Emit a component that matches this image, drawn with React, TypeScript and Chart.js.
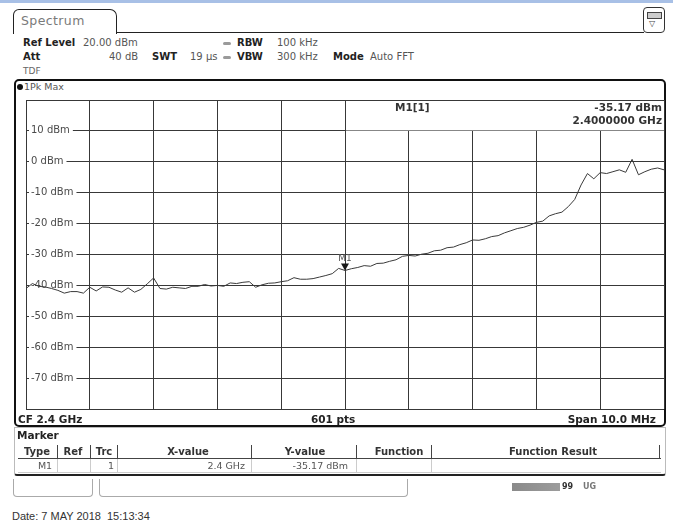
import React, { useEffect, useRef } from "react";
import { Chart, registerables } from "chart.js";

Chart.register(...registerables);

// ---- data ----
const centerFreqGHz = 2.4;
const spanGHz = 0.01;
const traceStartGHz = 2.395;
const traceStepGHz = 0.0001;
const traceLevelsDbm = [
  -41.0, -39.4, -40.3, -40.5, -41.0, -41.6, -42.5, -42.0, -42.0, -42.5,
  -40.6, -41.8, -40.5, -40.6, -41.5, -42.2, -40.8, -42.2, -41.3, -39.5,
  -37.6, -41.0, -41.2, -40.6, -40.8, -41.0, -40.3, -40.3, -39.7, -40.2,
  -40.0, -40.3, -39.2, -39.4, -39.0, -38.8, -40.6, -39.8, -39.3, -39.2,
  -38.8, -38.5, -37.5, -38.0, -38.0, -37.8, -37.3, -36.8, -36.2, -34.5,
  -35.17, -34.6, -34.2, -33.6, -33.8, -32.9, -32.8, -32.2, -31.7, -30.6,
  -30.3, -30.5, -29.9, -29.6, -28.8, -28.6, -27.8, -27.6, -26.8, -26.2,
  -25.3, -25.4, -24.9, -24.2, -23.9, -23.0, -22.3, -21.6, -21.2, -20.5,
  -19.6, -19.2, -17.5, -16.8, -16.3, -14.5, -12.2, -7.5, -3.8, -5.5,
  -3.5, -3.8, -3.2, -2.6, -3.4, 0.8, -4.2, -3.2, -2.4, -2.0,
  -2.6,
];
const xGridGHz = [2.395, 2.396, 2.397, 2.398, 2.399, 2.4, 2.401, 2.402, 2.403, 2.404, 2.405];
const yGridDbm = [20, 10, 0, -10, -20, -30, -40, -50, -60, -70, -80];
const yUnlabeledDbm = [20, -80];
const markerName = "M1";
const markerFreqGHz = 2.4;
const markerLevelDbm = -35.17;
const markerFreqText = "2.4000000 GHz";
const markerLevelText = "-35.17 dBm";

const FONT = '"DejaVu Sans", Verdana, sans-serif';

const markerPlugin = {
  id: "markerInfo",
  afterDatasetsDraw(chart: any) {
    const { ctx, chartArea } = chart;
    const xs = chart.scales.x;
    const ys = chart.scales.y;
    const px = xs.getPixelForValue(markerFreqGHz);
    const py = ys.getPixelForValue(markerLevelDbm);
    ctx.save();
    // marker triangle
    ctx.fillStyle = "#1a1a1a";
    ctx.beginPath();
    ctx.moveTo(px - 4, py - 7);
    ctx.lineTo(px + 4, py - 7);
    ctx.lineTo(px, py);
    ctx.closePath();
    ctx.fill();
    ctx.font = `9px ${FONT}`;
    ctx.fillStyle = "#555";
    ctx.textAlign = "center";
    ctx.textBaseline = "alphabetic";
    ctx.fillText(markerName, px, py - 9);
    // marker info field
    const top = chartArea.top;
    const row10 = ys.getPixelForValue(10);
    ctx.fillStyle = "#fff";
    ctx.fillRect(Math.round(px) + 1, top + 1, chartArea.right - Math.round(px) - 1, row10 - top - 1.5);
    ctx.fillStyle = "#333";
    ctx.textBaseline = "middle";
    ctx.font = `bold 10.5px ${FONT}`;
    ctx.textAlign = "left";
    ctx.fillText(`${markerName}[1]`, px + 50, top + 8);
    ctx.textAlign = "right";
    ctx.fillText(markerLevelText, chartArea.right - 2, top + 8);
    ctx.fillText(markerFreqText, chartArea.right - 2, top + 21);
    ctx.restore();
  },
};

function SpectrumChart() {
  const ref = useRef<HTMLCanvasElement | null>(null);
  useEffect(() => {
    if (!ref.current) return;
    const points = traceLevelsDbm.map((v, i) => ({ x: traceStartGHz + i * traceStepGHz, y: v }));
    const chart = new Chart(ref.current, {
      type: "line",
      data: {
        datasets: [
          {
            label: "1Pk Max",
            data: points,
            borderColor: "#3a3a3a",
            borderWidth: 1,
            pointRadius: 0,
            tension: 0,
          },
        ],
      },
      options: {
        animation: false,
        responsive: false,
        devicePixelRatio: 1,
        layout: { padding: { left: 10, right: 10, top: 8, bottom: 8 } },
        plugins: { legend: { display: false }, tooltip: { enabled: false } },
        scales: {
          x: {
            type: "linear",
            min: centerFreqGHz - spanGHz / 2,
            max: centerFreqGHz + spanGHz / 2,
            afterBuildTicks: (s: any) => {
              s.ticks = xGridGHz.map((v) => ({ value: v }));
            },
            ticks: { display: false },
            grid: { color: "#383838", lineWidth: 1, drawTicks: false },
            border: { display: false },
          },
          y: {
            type: "linear",
            min: -80,
            max: 20,
            afterBuildTicks: (s: any) => {
              s.ticks = yGridDbm.map((v) => ({ value: v }));
            },
            ticks: {
              mirror: true,
              padding: 5,
              color: "#4a4a4a",
              font: { family: FONT, size: 10 },
              showLabelBackdrop: true,
              backdropColor: (c: any) =>
                yUnlabeledDbm.includes(c.tick?.value) ? "rgba(0,0,0,0)" : "#fff",
              backdropPadding: { top: 0, bottom: 0, left: 2, right: 3 },
              callback: (v: any) => (yUnlabeledDbm.includes(Number(v)) ? "" : `${v} dBm`),
            },
            grid: { color: "#383838", lineWidth: 1, drawTicks: false },
            border: { display: false },
          },
        },
      },
      plugins: [markerPlugin],
    });
    return () => chart.destroy();
  }, []);
  return (
    <canvas
      ref={ref}
      width={668}
      height={331}
      style={{ position: "absolute", left: 6, top: 89, width: 668, height: 331 }}
    />
  );
}

const abs = (left: number, top: number, extra: any = {}) => ({
  position: "absolute" as const,
  left,
  top,
  whiteSpace: "pre" as const,
  lineHeight: "12px",
  ...extra,
});

const B = (left: number, top: number, text: string) => (
  <span style={abs(left, top, { fontWeight: "bold", fontSize: 10, color: "#222" })}>{text}</span>
);
const N = (left: number, top: number, text: string) => (
  <span style={abs(left, top, { fontSize: 10, color: "#555" })}>{text}</span>
);

const tableSeps = [57, 90, 117, 251, 356, 431, 659];

export default function App() {
  return (
    <div
      style={{
        position: "absolute",
        left: 0,
        top: 0,
        width: 673,
        height: 522,
        overflow: "hidden",
        background: "#fff",
        fontFamily: FONT,
      }}
    >
      {/* top blue strip */}
      <div style={{ position: "absolute", left: 0, top: 0, width: 673, height: 3, background: "#a8c0e6" }} />
      {/* tab */}
      <div
        style={{
          position: "absolute",
          left: 13,
          top: 9,
          width: 104,
          height: 25,
          boxSizing: "border-box",
          border: "1.5px solid #222",
          borderBottom: "none",
          borderRadius: "6px 7px 0 0",
        }}
      />
      <div style={{ position: "absolute", left: 116, top: 32, width: 528, height: 0, borderTop: "1.5px solid #222" }} />
      <span style={abs(21, 15, { fontSize: 12.5, letterSpacing: 0.4, color: "#7a7a7a" })}>Spectrum</span>
      {/* icon box */}
      <div
        style={{
          position: "absolute",
          left: 643,
          top: 7,
          width: 22,
          height: 26,
          boxSizing: "border-box",
          border: "1.5px solid #333",
          borderRadius: 4,
        }}
      >
        <div style={{ position: "absolute", left: 3, top: 4, width: 13, height: 5, border: "1px solid #444", background: "#ccc" }} />
        <span style={abs(5, 10, { fontSize: 8, color: "#444" })}>▽</span>
      </div>

      {/* header */}
      {B(23, 37, "Ref Level")}
      {N(83, 37, "20.00 dBm")}
      <div style={{ position: "absolute", left: 223, top: 42, width: 8, height: 3, borderRadius: 2, background: "#9a9a9a" }} />
      {B(237, 37, "RBW")}
      {N(277, 37, "100 kHz")}
      {B(23, 51, "Att")}
      {N(109, 51, "40 dB")}
      {B(152, 51, "SWT")}
      {N(190, 51, "19 µs")}
      <div style={{ position: "absolute", left: 223, top: 56, width: 8, height: 3, borderRadius: 2, background: "#9a9a9a" }} />
      {B(237, 51, "VBW")}
      {N(277, 51, "300 kHz")}
      {B(333, 51, "Mode")}
      {N(370, 51, "Auto FFT")}
      <span style={abs(23, 65, { fontSize: 9, color: "#666" })}>TDF</span>

      {/* diagram frame */}
      <div
        style={{
          position: "absolute",
          left: 14,
          top: 79,
          width: 652,
          height: 348,
          boxSizing: "border-box",
          border: "2px solid #111",
          borderRadius: 5,
        }}
      />
      <div style={{ position: "absolute", left: 17, top: 84, width: 6, height: 6, borderRadius: 3, background: "#111" }} />
      <span style={abs(24, 81, { fontSize: 9.5, color: "#555" })}>1Pk Max</span>

      <SpectrumChart />

      <span style={abs(18, 413, { fontSize: 10.5, fontWeight: "bold", color: "#222" })}>CF 2.4 GHz</span>
      <span style={abs(311, 413, { fontSize: 10.5, fontWeight: "bold", color: "#222" })}>601 pts</span>
      <span style={abs(0, 413, { left: "auto", right: 17, fontSize: 10.5, fontWeight: "bold", color: "#222" })}>
        Span 10.0 MHz
      </span>

      {/* marker table */}
      <div
        style={{
          position: "absolute",
          left: 14,
          top: 427,
          width: 652,
          height: 49,
          boxSizing: "border-box",
          border: "1px solid #bbb",
          borderBottom: "2.5px solid #222",
          borderRadius: "0 0 3px 3px",
        }}
      />
      <span style={abs(17, 429, { fontSize: 10.5, fontWeight: "bold", color: "#222" })}>Marker</span>
      <div style={{ position: "absolute", left: 18, top: 458, width: 643, height: 0, borderTop: "1px solid #444" }} />
      <div style={{ position: "absolute", left: 18, top: 472, width: 643, height: 0, borderTop: "1px solid #ccc" }} />
      {tableSeps.map((x) => (
        <div key={x} style={{ position: "absolute", left: x, top: 445, width: 0, height: 13, borderLeft: "1px solid #444" }} />
      ))}
      {tableSeps.slice(0, 6).map((x) => (
        <div key={"d" + x} style={{ position: "absolute", left: x, top: 459, width: 0, height: 13, borderLeft: "1px solid #ccc" }} />
      ))}
      {[
        ["Type", 37],
        ["Ref", 73],
        ["Trc", 104],
        ["X-value", 188],
        ["Y-value", 305],
        ["Function", 399],
        ["Function Result", 553],
      ].map(([t, c]) => (
        <span
          key={t as string}
          style={abs((c as number) - 60, 446, { width: 120, textAlign: "center", fontSize: 10, fontWeight: "bold", color: "#333" })}
        >
          {t}
        </span>
      ))}
      <span style={abs(15, 460, { width: 60, textAlign: "center", fontSize: 9.5, color: "#555" })}>M1</span>
      <span style={abs(54, 460, { width: 60, textAlign: "right", fontSize: 9.5, color: "#555" })}>1</span>
      <span style={abs(145, 460, { width: 100, textAlign: "right", fontSize: 9.5, color: "#555" })}>2.4 GHz</span>
      <span style={abs(248, 460, { width: 100, textAlign: "right", fontSize: 9.5, color: "#555" })}>-35.17 dBm</span>

      {/* status bar */}
      <div
        style={{
          position: "absolute",
          left: 13,
          top: 479,
          width: 80,
          height: 18,
          boxSizing: "border-box",
          border: "1px solid #aaa",
          borderTop: "none",
          borderRadius: "0 0 4px 4px",
        }}
      />
      <div
        style={{
          position: "absolute",
          left: 99,
          top: 479,
          width: 309,
          height: 18,
          boxSizing: "border-box",
          border: "1px solid #aaa",
          borderTop: "none",
          borderRadius: "0 0 4px 4px",
        }}
      />
      <div
        style={{
          position: "absolute",
          left: 512,
          top: 483,
          width: 48,
          height: 8,
          background: "linear-gradient(to right, #8a8a8a, #9c9c9c)",
        }}
      />
      <span style={abs(562, 481, { fontSize: 8, fontWeight: "bold", color: "#333" })}>99</span>
      <span style={abs(583, 481, { fontSize: 8, fontWeight: "bold", color: "#777" })}>UG</span>

      <span style={abs(12, 510, { fontFamily: '"Liberation Sans", Arial, sans-serif', fontSize: 11, color: "#333" })}>
        Date: 7 MAY 2018  15:13:34
      </span>
    </div>
  );
}
